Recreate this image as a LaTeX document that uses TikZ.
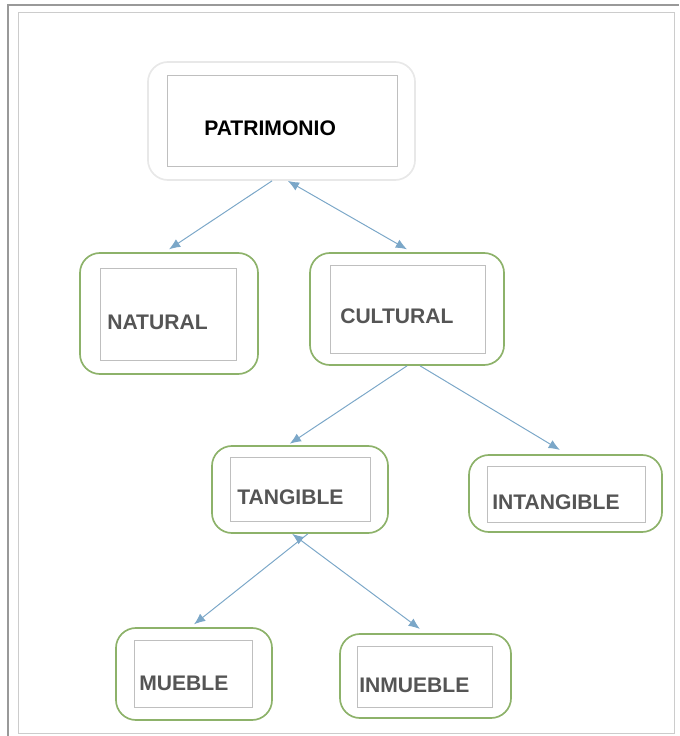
\documentclass[tikz,border=0pt]{standalone}
\usepackage{fontspec}
\setmainfont{Liberation Sans}
\usepackage{xcolor}
\usepackage{tikz}
\usetikzlibrary{arrows.meta,positioning}

\definecolor{boxgreen}{HTML}{8DB26A}
\definecolor{linkblue}{HTML}{7BA7C8}
\definecolor{textgray}{HTML}{555555}

\begin{document}
\begin{tikzpicture}[x=0.025cm,y=-0.025cm,>={Latex[length=8pt,width=6.5pt]},
        outer/.style = {shape=rectangle, rounded corners=0.5cm, draw=boxgreen,
        line width=1.2pt},
        inner/.style = {shape=rectangle, draw=gray!50, line width=0.6pt},
        tag/.style = {anchor=west, inner sep=0pt, text=textgray,
        font=\fontsize{15}{18}\selectfont\bfseries},
        link/.style = {draw=linkblue, line width=0.7pt}]
      \useasboundingbox (0,0) rectangle (679,736);
      % frame
      \draw[gray!40, line width=0.6pt] (18,12) rectangle (674,733);
      \draw[gray!80, line width=1.2pt] (8,736) -- (8,5) -- (679,5);
      % boxes
      \node[outer, draw=gray!18, minimum width=6.675cm, minimum height=2.95cm] (patr) at (281.5,121) {};
      \node[inner, minimum width=5.75cm, minimum height=2.275cm] at (282,120.5) {};
      \node[tag, text=black] at (204,128) {PATRIMONIO};

      \node[outer, minimum width=4.45cm, minimum height=3.025cm] (nat) at (169,313.5) {};
      \node[inner, minimum width=3.4cm, minimum height=2.3cm] at (168,314) {};
      \node[tag] at (107,322) {NATURAL};

      \node[outer, minimum width=4.85cm, minimum height=2.8cm] (cult) at (407,309) {};
      \node[inner, minimum width=3.875cm, minimum height=2.2cm] at (407.5,309) {};
      \node[tag] at (340,316) {CULTURAL};

      \node[outer, minimum width=4.4cm, minimum height=2.175cm] (tang) at (300,489.5) {};
      \node[inner, minimum width=3.5cm, minimum height=1.6cm] at (300,489) {};
      \node[tag] at (237,497) {TANGIBLE};

      \node[outer, minimum width=4.825cm, minimum height=1.925cm] (intang) at (565.5,493.5) {};
      \node[inner, minimum width=3.95cm, minimum height=1.4cm] at (566,494) {};
      \node[tag] at (492,502) {INTANGIBLE};

      \node[outer, minimum width=3.9cm, minimum height=2.3cm] (mueb) at (194,674) {};
      \node[inner, minimum width=2.95cm, minimum height=1.675cm] at (193,673.5) {};
      \node[tag] at (139,683) {MUEBLE};

      \node[outer, minimum width=4.275cm, minimum height=2.1cm] (inmueb) at (425.5,676) {};
      \node[inner, minimum width=3.375cm, minimum height=1.525cm] at (424.5,676.5) {};
      \node[tag] at (359,685) {INMUEBLE};

      % links
      \draw[link, ->] (patr.-99) -- ([yshift=2pt]nat.north);
      \draw[link, <->] (patr.-84) -- ([yshift=2pt]cult.north);
      \draw[link, ->] (cult.south) -- ([yshift=1pt]tang.103);
      \draw[link, ->] (cult.-77) -- ([xshift=-4pt,yshift=3pt]intang.north);
      \draw[link, ->] (tang.-80) -- ([yshift=2pt]mueb.north);
      \draw[link, <->] (tang.-100) -- ([xshift=-4pt,yshift=3pt]inmueb.north);
    \end{tikzpicture}
\end{document}
